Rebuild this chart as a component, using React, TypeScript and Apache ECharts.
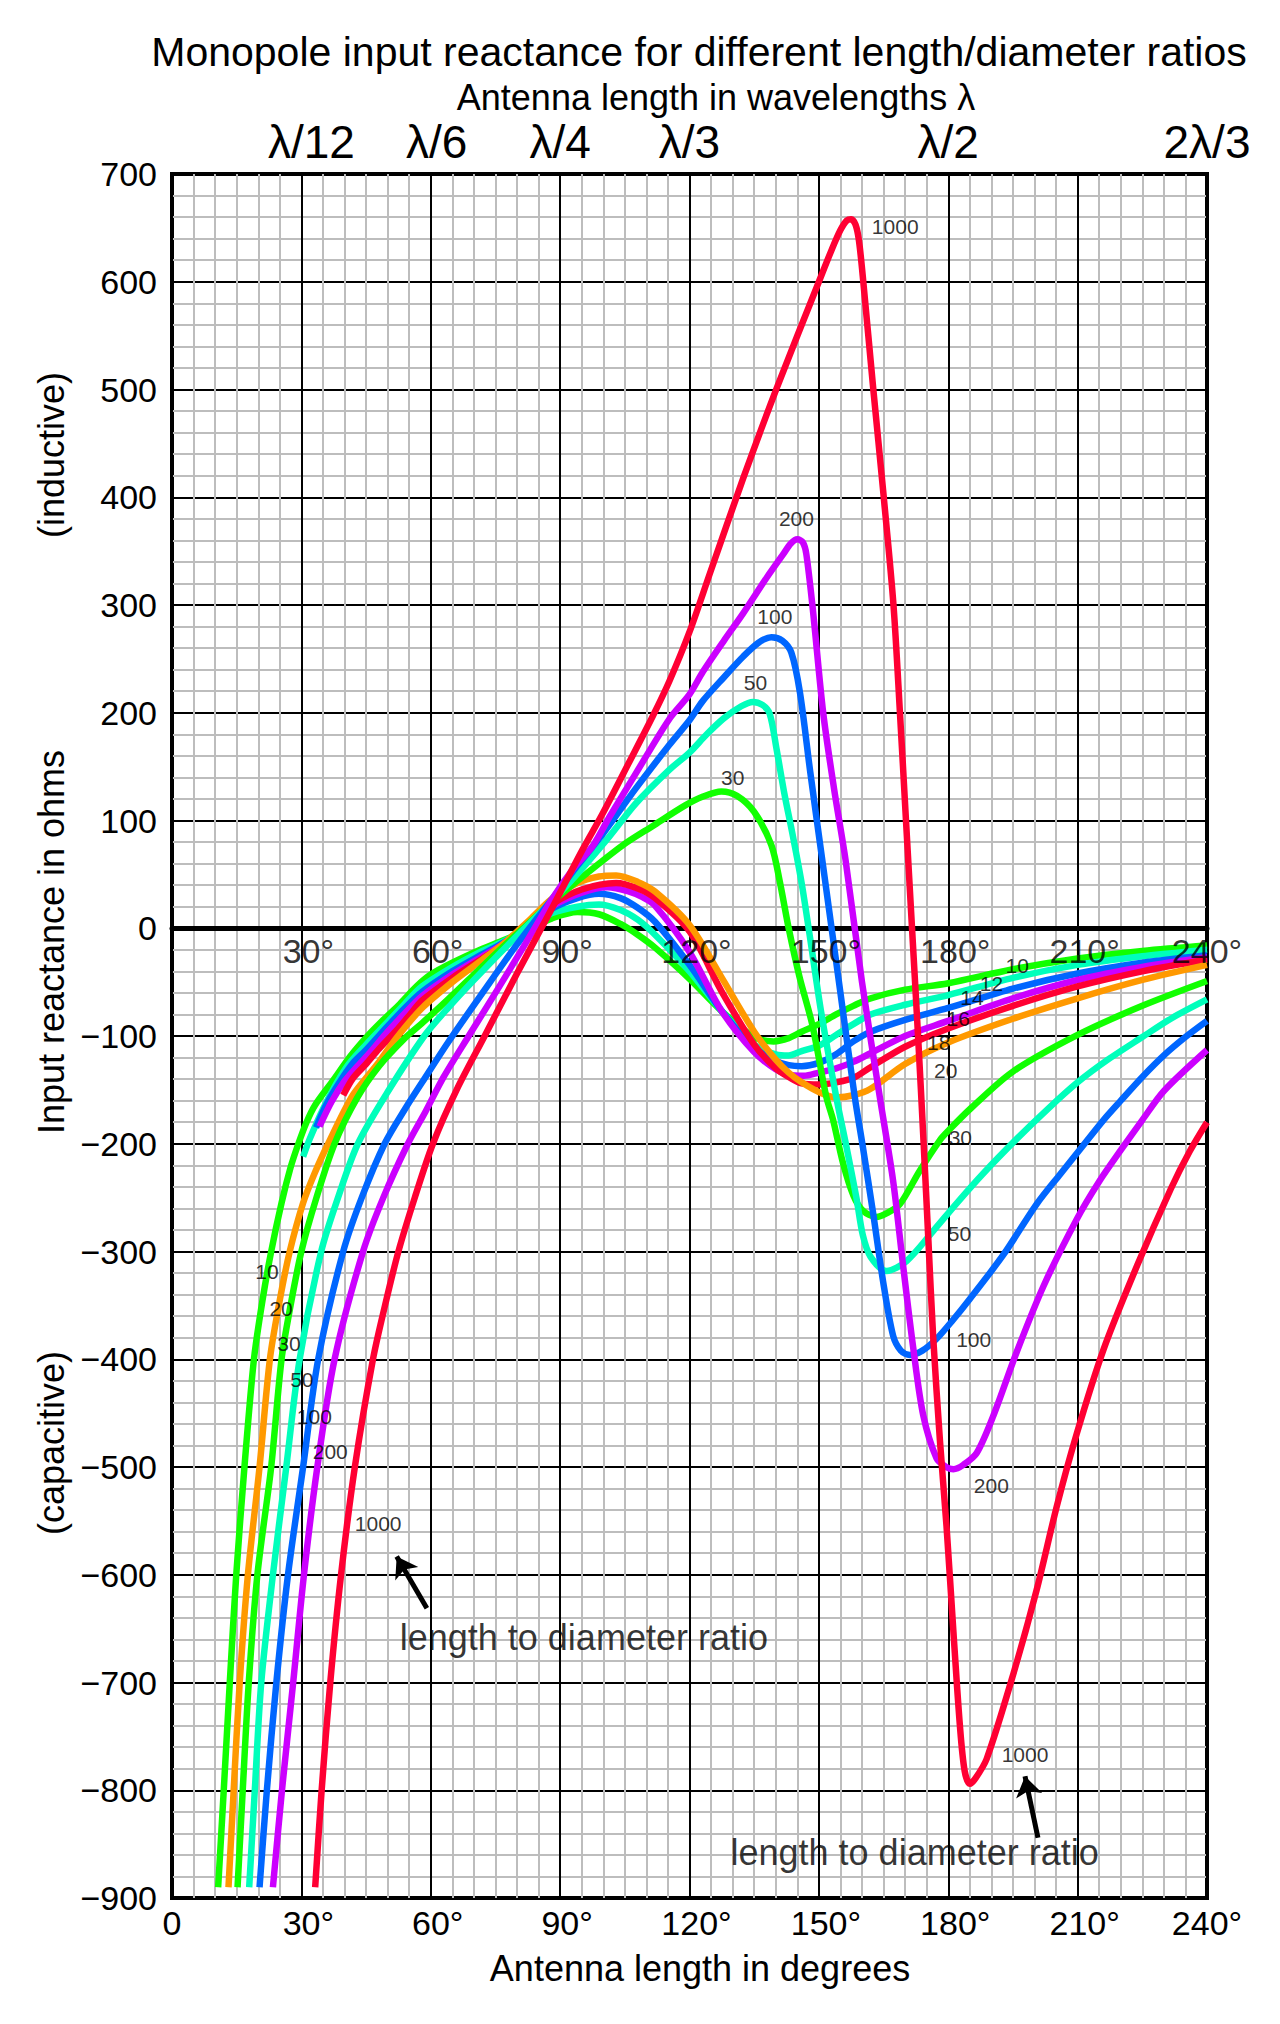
import React, { useEffect, useRef } from 'react'
import * as echarts from 'echarts'

const FONT = '"Liberation Sans", Arial, Helvetica, sans-serif'

// top axis: antenna length in wavelengths
const wavelengthDeg = [30, 60, 90, 120, 180, 240]
const wavelengthLabel = ['λ/12', 'λ/6', 'λ/4', 'λ/3', 'λ/2', '2λ/3']

// degree labels written just under the zero line
const zeroLabelDeg = [30, 60, 90, 120, 150, 180, 210, 240]

// reactance curves [degrees, ohms] for each length/diameter ratio
const ratio10: [number, number][] = [
    [10.7, -890], [12, -800], [13.4, -700], [14.9, -600], [16.8, -500], [19, -400], [21, -345], [23, -300],
    [25.4, -255], [27.5, -222], [29.3, -200], [31.2, -180], [33.2, -164], [37.4, -141], [41.3, -119], [45.1, -101],
    [49, -85], [52.9, -70], [56.7, -54], [60, -43], [65, -32], [72, -19], [77, -11], [83, 0], [88, 9], [94, 15],
    [99, 13], [104, 4], [108, -6], [112, -18], [120, -47], [127.5, -77], [135, -101], [139.5, -105], [143, -102],
    [146, -96], [150, -89], [154, -80], [158, -72], [162, -65], [170, -57], [180, -51], [195, -38], [210, -28],
    [225, -21], [240, -16],
]
const ratio12: [number, number][] = [
    [30.4, -212], [32, -195], [35, -168], [38, -145], [41, -126], [45, -108], [50, -87], [54, -70], [58, -54],
    [65, -36], [72, -21], [77, -12], [83, 2], [88, 14], [94, 20], [99, 22], [104, 17], [108, 8], [112, -6],
    [120, -40], [127.5, -77], [135, -108], [140, -117], [143, -118], [146, -114], [150, -109], [154, -99],
    [158, -89], [162, -80], [170, -71], [180, -62], [195, -46], [210, -34], [225, -26], [240, -20],
]
const ratio14: [number, number][] = [
    [33.4, -185], [36, -162], [39, -142], [42, -125], [45, -113], [50, -91], [54, -74], [58, -59], [65, -40],
    [72, -24], [77, -13], [83, 3], [88, 18], [94, 28], [99, 32], [104, 28], [108, 19], [112, 6], [120, -34],
    [127.5, -77], [135, -111], [140, -123], [143, -127], [146, -128], [150, -125], [154, -117], [158, -105],
    [162, -96], [170, -85], [180, -74], [195, -56], [210, -42], [225, -32], [240, -25],
]
const ratio16: [number, number][] = [
    [34.2, -184], [37, -161], [40, -142], [43, -128], [46, -115], [50, -96], [54, -79], [58, -63], [65, -43],
    [72, -26], [77, -14], [83, 4], [88, 20], [95, 33], [101, 38], [106, 34], [109, 29], [112, 21], [120, -22],
    [127.5, -77], [135, -115], [140, -131], [143, -136], [146.5, -137], [150, -134], [154, -130], [158, -124],
    [162, -116], [170, -100], [180, -86], [195, -65], [210, -48], [225, -36], [240, -27],
]
const ratio18: [number, number][] = [
    [39.7, -155], [42, -139], [45, -126], [48, -112], [52, -95], [55, -81], [58, -67], [65, -46], [72, -28],
    [77, -15], [83, 5], [88, 22], [95, 36], [103, 42], [108, 37], [112, 28], [120, -3], [127.5, -59], [135, -108],
    [140, -130], [143, -138], [146, -144], [150, -145], [154, -143], [158, -139], [162, -129], [170, -110],
    [180, -93], [195, -72], [210, -54], [225, -40], [240, -29],
]
const ratio20: [number, number][] = [
    [13.1, -890], [14.3, -800], [15.7, -700], [17.6, -600], [20.3, -500], [22.7, -400], [25, -345], [27.3, -300],
    [30.4, -255], [33, -228], [36.2, -200], [41.6, -157], [45, -139], [48, -124], [52.4, -100], [58, -74],
    [65, -50], [72, -29], [77, -14], [83, 8], [88, 27], [94, 42], [99, 48], [103, 49], [108, 43], [112, 34],
    [120, 3], [127.5, -46], [135, -96], [140, -122], [143, -134], [146, -143], [150, -152], [154, -157],
    [158, -155], [162, -149], [170, -126], [180, -106], [195, -84], [210, -65], [225, -48], [240, -34],
]
const ratio30: [number, number][] = [
    [15.2, -890], [16.4, -800], [17.8, -700], [19.8, -600], [23, -500], [25.4, -400], [27.5, -350], [30, -300],
    [33.5, -250], [37.7, -200], [43, -157], [48, -128], [54, -102], [58, -88], [64, -66], [70, -43], [76, -20],
    [82, 2], [88.3, 25], [96.5, 52], [104.5, 77], [111.5, 95], [119, 114], [123, 122], [127.4, 127], [131, 123],
    [135, 108], [139, 77], [141, 42], [143, 0], [145.5, -45], [148.5, -90], [151.7, -156], [153.3, -178],
    [155.6, -218], [158, -248], [160.2, -262], [163.3, -268], [166, -264], [168.8, -256], [173.4, -225],
    [178, -197], [180, -188], [185, -168], [195, -133], [210, -99], [225, -72], [240, -49],
]
const ratio50: [number, number][] = [
    [17.9, -890], [19.2, -800], [20.7, -700], [23.4, -600], [26.5, -500], [29.6, -400], [34.6, -300], [38.5, -250],
    [43.1, -200], [50, -152], [58.5, -100], [64, -74], [70, -48], [78, -15], [88.3, 26], [95, 55], [101.4, 85],
    [107.6, 116], [115.3, 147], [120, 163], [124, 180], [128, 195], [132, 206], [134.7, 210], [137, 207],
    [138.6, 199], [140.2, 166], [142, 125], [144, 85], [146, 42], [148, -10], [150.5, -77], [154, -156],
    [156.4, -203], [158.7, -250], [160.2, -285], [162, -305], [165.7, -318], [170.3, -309], [176.5, -281],
    [182, -255], [188, -228], [196, -195], [203, -168], [210, -143], [217, -122], [225, -101], [232, -83],
    [240, -66],
]
const ratio100: [number, number][] = [
    [20.3, -890], [22, -800], [24.2, -700], [26.9, -600], [30.4, -500], [33.9, -400], [39.7, -300], [44, -250],
    [49.3, -200], [54, -168], [58, -143], [64, -106], [72, -60], [80, -15], [88.3, 28], [94, 58], [99.8, 87],
    [107.6, 130], [115.3, 170], [120, 193], [123.1, 211], [128, 233], [132.4, 252], [136, 265], [139, 270],
    [141.5, 267], [143.6, 256], [145.6, 219], [148, 145], [150.8, 63], [155, -60], [158.3, -156], [160.2, -203],
    [162.6, -265], [164.9, -328], [167.2, -378], [169, -392], [171.1, -396], [174, -392], [177.3, -381],
    [181, -364], [185, -344], [192.8, -303], [200.5, -256], [206, -228], [211, -203], [216, -178], [220, -160],
    [225, -138], [230, -118], [235, -101], [240, -86],
]
const ratio200: [number, number][] = [
    [23.4, -890], [25.5, -800], [28.1, -700], [30.6, -600], [33.7, -500], [37.7, -400], [44.3, -300], [49, -250],
    [54.7, -200], [58.8, -170], [63, -138], [68.8, -100], [75, -60], [82, -14], [88.3, 28], [93, 55], [97.5, 76],
    [101.4, 103], [107.6, 144], [115.3, 194], [120, 217], [123.1, 238], [128, 267], [132.4, 292], [138, 326],
    [141.7, 347], [143.5, 357], [145, 361], [146.3, 358], [147.1, 347], [148.7, 292], [151, 200], [153.5, 130],
    [156.2, 63], [160, -50], [164.1, -156], [167.2, -234], [169.5, -312], [171.9, -390], [174.2, -452],
    [177.3, -492], [179.5, -500], [181.2, -502], [183.5, -498], [186.6, -487], [190.5, -452], [195.9, -393],
    [202.1, -332], [209.8, -270], [215, -235], [220, -206], [225, -178], [230, -151], [240, -113],
]
const ratio1000: [number, number][] = [
    [33.2, -890], [34.7, -800], [36.7, -700], [39.2, -600], [42.4, -500], [46.6, -400], [49.4, -350], [52.5, -300],
    [56.3, -250], [60.5, -200], [66, -150], [72.5, -100], [80, -42], [88.3, 20], [95.2, 73], [99.8, 106],
    [106, 154], [111.5, 197], [115.3, 229], [120, 275], [124.7, 329], [132.4, 417], [140.2, 501], [150, 600],
    [153, 630], [155, 648], [156.5, 657], [157.5, 658], [158.5, 653], [159.3, 638], [160.3, 600], [162.6, 501],
    [165, 402], [167.3, 300], [168.8, 200], [170.2, 100], [171.6, 0], [173, -100], [174.3, -200], [175.4, -290],
    [176.5, -379], [178.1, -477], [179.6, -555], [181.2, -653], [182.7, -740], [183.8, -782], [185, -794],
    [186.3, -789], [188.9, -771], [195.1, -692], [200.5, -614], [205.2, -536], [209.8, -469], [216, -391],
    [223.8, -313], [231.6, -242], [236, -207], [240, -180],
]

const curveNames = ['10', '12', '14', '16', '18', '20', '30', '50', '100', '200', '1000']
const curveData = [ratio10, ratio12, ratio14, ratio16, ratio18, ratio20, ratio30, ratio50, ratio100, ratio200, ratio1000]
const curveColors = [
    '#11ff00', '#00ffbb', '#0066ff', '#cc00ff', '#ff0033', '#ff9900',
    '#11ff00', '#00ffbb', '#0066ff', '#cc00ff', '#ff0033',
]

// ratio labels next to the curves
const tagText = [
    '10', '20', '30', '50', '100', '200', '1000',
    '1000', '200', '100', '50', '30',
    '10', '12', '14', '16', '18', '20', '30', '50', '100', '200', '1000',
]
const tagDeg = [
    22.0, 25.3, 27.1, 30.1, 33.0, 36.7, 47.8,
    167.7, 144.8, 139.8, 135.3, 130.0,
    196.0, 190.0, 185.5, 182.3, 177.8, 179.4, 182.8, 182.6, 185.9, 190.0, 197.8,
]
const tagOhm = [
    -319, -353, -385, -419, -453, -486, -552,
    651, 380, 289, 228, 140,
    -35, -51, -64, -84, -106, -132, -194, -283, -382, -517, -767,
]

// "length to diameter ratio" notes and their arrows
const noteDeg = [95.5, 172.2]
const noteOhm = [-658, -858]
const arrowFrom: [number, number][] = [[59.1, -631], [200.8, -844]]
const arrowTo: [number, number][] = [[52.1, -583], [197.8, -787]]

// the degree sign hangs to the right of the centred digits (not on the last one)
const degLabel = (v: number) => (v === 0 ? '0' : v === 240 ? `${v}°` : `{s|}${v}°`)

const App: React.FC = () => {
    const chartRef = useRef<HTMLDivElement>(null)

    useEffect(() => {
        if (!chartRef.current) return
        const chart = echarts.init(chartRef.current, undefined, { renderer: 'svg' })

        const textStyle = { fontFamily: FONT, color: '#000' }
        const centered = { textAlign: 'center', textVerticalAlign: 'middle', align: 'center', verticalAlign: 'middle' }

        const lineSeries = curveData.map((data, i) => ({
            type: 'line',
            name: curveNames[i],
            data,
            xAxisIndex: 0,
            yAxisIndex: 0,
            showSymbol: false,
            symbol: 'none',
            smooth: 0.3,
            silent: true,
            z: 3,
            lineStyle: { color: curveColors[i], width: 6.5, cap: 'butt', join: 'round' },
            itemStyle: { color: curveColors[i] },
            emphasis: { disabled: true },
        }))

        const option = {
            animation: false,
            backgroundColor: '#fff',
            grid: {
                left: 172,
                right: 73,
                top: 174,
                bottom: 126,
                show: true,
                borderColor: '#000',
                borderWidth: 4,
                backgroundColor: '#fff',
                containLabel: false,
                outerBoundsMode: 'none',
            },
            graphic: [
                {
                    type: 'text', x: 699, y: 52,
                    style: {
                        text: 'Monopole input reactance for different length/diameter ratios',
                        fontSize: 41, fontFamily: FONT, fill: '#000', ...centered,
                    },
                },
                {
                    type: 'text', x: 716, y: 97,
                    style: { text: 'Antenna length in wavelengths λ', fontSize: 36, fontFamily: FONT, fill: '#000', ...centered },
                },
                {
                    type: 'text', x: 700, y: 1968,
                    style: { text: 'Antenna length in degrees', fontSize: 36, fontFamily: FONT, fill: '#000', ...centered },
                },
                ...[
                    ['(inductive)', 455],
                    ['Input reactance in ohms', 942],
                    ['(capacitive)', 1443],
                ].map(([text, y]) => ({
                    type: 'text', x: 51, y: y as number, rotation: Math.PI / 2,
                    style: { text: text as string, fontSize: 36, fontFamily: FONT, fill: '#000', ...centered },
                })),
            ],
            xAxis: [
                {
                    type: 'value',
                    min: 0,
                    max: 240,
                    interval: 30,
                    position: 'bottom',
                    axisLine: { show: false, onZero: false },
                    axisTick: { show: false },
                    axisLabel: {
                        ...textStyle, fontSize: 34, margin: 8,
                        showMinLabel: true, showMaxLabel: true,
                        formatter: degLabel,
                        rich: { s: { width: 14 } },
                    },
                    splitLine: { show: true, lineStyle: { color: '#000', width: 2 } },
                    minorTick: { show: false, splitNumber: 6 },
                    minorSplitLine: { show: true, lineStyle: { color: '#bdbdbd', width: 2 } },
                },
                {
                    // the thick zero line
                    type: 'value',
                    min: 0,
                    max: 240,
                    interval: 30,
                    position: 'bottom',
                    axisLine: { show: true, onZero: true, onZeroAxisIndex: 0, lineStyle: { color: '#000', width: 5 } },
                    axisTick: { show: false },
                    axisLabel: { show: false },
                    splitLine: { show: false },
                },
                {
                    type: 'value',
                    min: 0,
                    max: 240,
                    interval: 30,
                    position: 'top',
                    axisLine: { show: false, onZero: false },
                    axisTick: { show: false },
                    axisLabel: {
                        ...textStyle, fontSize: 46, margin: 9,
                        showMinLabel: true, showMaxLabel: true,
                        formatter: (v: number) => {
                            const i = wavelengthDeg.indexOf(v)
                            if (i < 0) return ''
                            if (v === 30) return `{w|}${wavelengthLabel[i]}`
                            if (v === 60) return `{n|}${wavelengthLabel[i]}`
                            return wavelengthLabel[i]
                        },
                        rich: { w: { width: 20 }, n: { width: 12 } },
                    },
                    splitLine: { show: false },
                },
            ],
            yAxis: {
                type: 'value',
                min: -900,
                max: 700,
                interval: 100,
                axisLine: { show: false, onZero: false },
                axisTick: { show: false },
                axisLabel: {
                    ...textStyle, fontSize: 34, margin: 15,
                    showMinLabel: true, showMaxLabel: true,
                    formatter: (v: number) => String(v).replace('-', '\u2212'),
                },
                splitLine: { show: true, lineStyle: { color: '#000', width: 2 } },
                minorTick: { show: false, splitNumber: 5 },
                minorSplitLine: { show: true, lineStyle: { color: '#bdbdbd', width: 2 } },
            },
            series: [
                ...lineSeries,
                {
                    type: 'scatter',
                    xAxisIndex: 0,
                    data: zeroLabelDeg.map((d) => ({
                        name: `${d}°`,
                        value: [d, 0],
                        label: { offset: [d === 240 ? 0 : 7, 0] },
                    })),
                    symbolSize: 1,
                    itemStyle: { color: 'rgba(0,0,0,0)' },
                    silent: true,
                    z: 4,
                    label: {
                        show: true, position: 'bottom', distance: 5,
                        formatter: '{b}', fontSize: 34, ...textStyle,
                    },
                },
                {
                    type: 'scatter',
                    xAxisIndex: 0,
                    data: tagText.map((t, i) => ({ name: t, value: [tagDeg[i], tagOhm[i]] })),
                    symbolSize: 1,
                    itemStyle: { color: 'rgba(0,0,0,0)' },
                    silent: true,
                    z: 5,
                    label: { show: true, position: 'inside', formatter: '{b}', fontSize: 21, ...textStyle },
                },
                {
                    type: 'scatter',
                    xAxisIndex: 0,
                    data: noteDeg.map((d, i) => ({ name: 'length to diameter ratio', value: [d, noteOhm[i]] })),
                    symbolSize: 1,
                    itemStyle: { color: 'rgba(0,0,0,0)' },
                    silent: true,
                    z: 5,
                    label: { show: true, position: 'inside', formatter: '{b}', fontSize: 36, ...textStyle },
                },
                {
                    type: 'lines',
                    coordinateSystem: 'cartesian2d',
                    xAxisIndex: 0,
                    data: arrowFrom.map((from, i) => ({ coords: [from, arrowTo[i]] })),
                    symbol: ['none', 'arrow'],
                    symbolSize: 20,
                    silent: true,
                    z: 6,
                    lineStyle: { color: '#000', width: 5, opacity: 1, curveness: 0 },
                },
            ],
        }

        chart.setOption(option as any)

        const handleResize = () => {
            chart.resize()
        }
        window.addEventListener('resize', handleResize)

        return () => {
            window.removeEventListener('resize', handleResize)
            chart.dispose()
        }
    }, [])

    return (
        <div
            ref={chartRef}
            style={{ position: 'absolute', left: 0, top: 0, width: '1280px', height: '2024px', background: '#fff' }}
        />
    )
}

export default App
